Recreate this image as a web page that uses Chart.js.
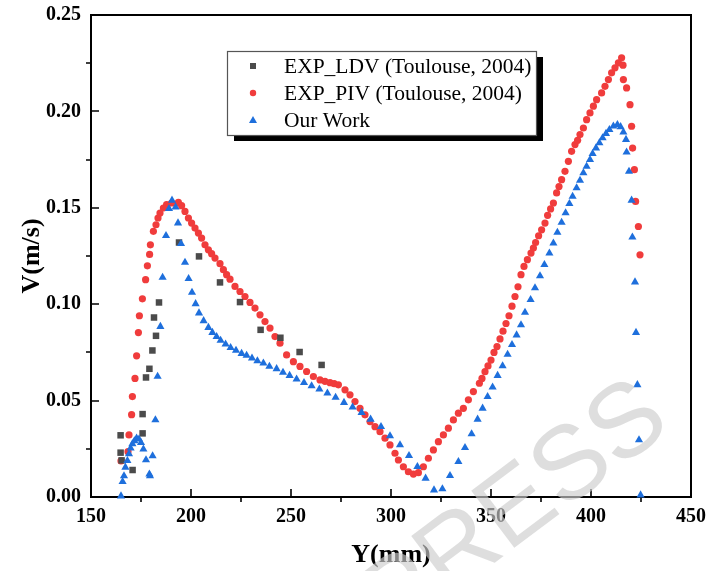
<!DOCTYPE html>
<html>
<head>
<meta charset="utf-8">
<script src="https://cdn.jsdelivr.net/npm/chart.js@4.4.1/dist/chart.umd.min.js"></script>
<style>
  html, body { margin: 0; padding: 0; background: #fff; }
  #wrap { width: 706px; height: 571px; }
</style>
</head>
<body>
<div id="wrap"><canvas id="chart" width="706" height="571"></canvas></div>
<script>
// series: Y (mm) and V (m/s)
const ldvX = [164.8, 164.8, 165.3, 170.8, 175.8, 175.8, 177.5, 179.2, 180.7, 182.5, 181.5, 184.0,
  194.0, 204.0, 214.5, 224.5, 234.8, 244.7, 254.3, 265.3];
const ldvY = [0.032, 0.023, 0.019, 0.014, 0.033, 0.043, 0.062, 0.0665, 0.076, 0.0836, 0.0931, 0.1009,
  0.132, 0.1248, 0.1113, 0.1011, 0.0867, 0.0826, 0.0752, 0.0685];

const pivX = [165.0, 168.5, 169.0, 170.3, 170.7, 172.0, 172.8, 173.7, 174.2, 175.7, 177.3, 178.2, 179.3, 179.7,
  181.2, 182.5, 183.5, 184.5, 186.2, 187.8, 190.3, 193.7, 195.3, 197.0, 198.7, 200.3, 202.0, 203.7, 205.3,
  207.0, 208.7, 210.3, 212.0, 214.5, 216.2, 217.8, 219.5, 222.0, 224.5, 227.0, 229.5, 232.0, 234.5, 237.0,
  239.5, 242.0, 244.5, 247.8, 251.2, 254.5, 257.8, 261.2, 264.5, 267.0, 269.5, 271.6, 273.7, 277.0, 279.5,
  282.0, 284.5, 287.0, 289.5, 292.0, 294.5, 297.0, 299.5, 302.0, 303.7, 306.2, 308.7, 311.2, 313.7, 316.2,
  318.7, 321.2, 323.7, 326.2, 328.7, 331.2, 333.7, 336.2, 338.7, 341.2, 344.2, 345.5, 347.0, 348.5, 350.0,
  351.5, 353.0, 354.5, 356.0, 357.5, 359.0, 360.5, 362.0, 363.5, 365.0, 366.5, 368.2, 370.0, 371.2, 372.3,
  373.8, 375.3, 377.0, 378.3, 379.8, 381.2, 382.8, 384.0, 385.3, 387.0, 388.7, 390.3, 392.0, 393.3, 394.5,
  396.2, 397.8, 399.5, 401.2, 402.8, 405.3, 407.0, 408.7, 410.3, 412.0, 413.7, 415.3, 416.0, 416.2, 417.8,
  419.5, 420.3, 420.8, 421.7, 422.3, 423.7, 424.5];
const pivY = [0.0187, 0.0235, 0.0322, 0.0427, 0.0521, 0.0615, 0.0732, 0.0853, 0.094, 0.1028, 0.1127, 0.1199, 0.1258, 0.1308,
  0.1378, 0.1412, 0.1447, 0.1473, 0.1499, 0.1516, 0.1525, 0.1528, 0.1511, 0.1481, 0.1447, 0.1421, 0.1395, 0.1369, 0.1343,
  0.1308, 0.1282, 0.1262, 0.1239, 0.1210, 0.1179, 0.1153, 0.1130, 0.1092, 0.1066, 0.1040, 0.1009, 0.0980, 0.0945, 0.0910,
  0.0876, 0.0832, 0.0798, 0.0737, 0.0702, 0.0677, 0.0651, 0.0625, 0.0607, 0.0600, 0.0593, 0.0588, 0.0582, 0.0556, 0.0530,
  0.0495, 0.0460, 0.0426, 0.0391, 0.0365, 0.0339, 0.0305, 0.0270, 0.0227, 0.0192, 0.0157, 0.0131, 0.0119, 0.0126, 0.0157,
  0.0201, 0.0244, 0.0287, 0.0322, 0.0357, 0.0400, 0.0435, 0.0460, 0.0504, 0.0547, 0.0590, 0.0615, 0.065, 0.068, 0.071,
  0.075, 0.078, 0.082, 0.086, 0.090, 0.094, 0.099, 0.104, 0.109, 0.1153, 0.1196, 0.1231, 0.1265, 0.1291, 0.1320,
  0.1355, 0.1386, 0.1421, 0.1461, 0.1494, 0.1525, 0.1577, 0.161, 0.1646, 0.1689, 0.1741, 0.1793, 0.1828, 0.185, 0.1880,
  0.1914, 0.1957, 0.1992, 0.2027, 0.2061, 0.2096, 0.2130, 0.2165, 0.2200, 0.2226, 0.2252, 0.2278, 0.2240, 0.2165, 0.2122,
  0.2035, 0.1923, 0.1810, 0.1698, 0.1533, 0.1403, 0.1256];

const oursX = [165.0, 165.8, 166.5, 167.2, 168.2, 169.0, 169.8, 170.7, 171.7, 172.8, 174.0, 175.0, 176.2, 177.5,
  179.2, 179.5, 180.8, 182.2, 183.3, 184.7, 185.8, 187.5, 189.0, 190.5, 192.3, 193.5, 195.0, 197.0, 198.8, 200.5,
  202.3, 204.0, 206.3, 208.7, 210.7, 212.8, 214.8, 217.3, 219.8, 222.5, 225.3, 227.8, 230.5, 233.2, 236.2, 239.2,
  242.8, 246.0, 249.3, 252.8, 256.5, 260.3, 264.2, 268.2, 272.3, 276.5, 280.8, 285.3, 289.8, 295.0, 299.5, 304.5,
  309.0, 313.2, 317.3, 321.5, 325.7, 329.5, 333.7, 337.0, 340.3, 343.3, 345.8, 348.3, 350.8, 353.3, 355.8, 358.3,
  360.5, 362.8, 365.0, 367.0, 369.8, 372.0, 374.5, 376.7, 379.2, 381.2, 383.2, 385.3, 387.3, 389.2, 390.8, 392.8,
  394.5, 396.2, 397.8, 399.5, 400.8, 402.5, 404.2, 405.8, 407.5, 409.2, 411.2, 413.2, 414.8, 416.2, 417.5, 417.8,
  419.0, 420.3, 420.7, 422.0, 422.5, 423.2, 424.0, 424.8];
const oursY = [0.0005, 0.0080, 0.0109, 0.0154, 0.0188, 0.0223, 0.0253, 0.0275, 0.0291, 0.0305, 0.0300, 0.0282, 0.0248, 0.0192,
  0.0118, 0.0109, 0.0213, 0.0400, 0.0625, 0.0884, 0.1139, 0.1355, 0.1495, 0.1539, 0.1504, 0.1421, 0.1314, 0.1217, 0.1132, 0.1061,
  0.1002, 0.0954, 0.0914, 0.0879, 0.0853, 0.0832, 0.0812, 0.0793, 0.0775, 0.0760, 0.0744, 0.0734, 0.0720, 0.0706, 0.0694, 0.0677,
  0.0665, 0.0646, 0.0630, 0.0611, 0.0593, 0.0576, 0.0559, 0.0538, 0.0516, 0.0490, 0.0466, 0.0438, 0.0403, 0.0365, 0.0317, 0.0270,
  0.0214, 0.0157, 0.0097, 0.0036, 0.0042, 0.0111, 0.0183, 0.0256, 0.0327, 0.0403, 0.046, 0.052, 0.057, 0.063, 0.068, 0.074,
  0.079, 0.084, 0.0893, 0.0957, 0.1023, 0.1084, 0.1147, 0.1205, 0.1265, 0.1317, 0.1372, 0.1424, 0.1473, 0.1521, 0.1559, 0.1603,
  0.1642, 0.1681, 0.1715, 0.1750, 0.1781, 0.1810, 0.1836, 0.1862, 0.1885, 0.1905, 0.1923, 0.1931, 0.1920, 0.1892, 0.1854, 0.1788,
  0.1689, 0.1539, 0.1348, 0.1115, 0.0853, 0.0582, 0.0296, 0.0010];

const seriesNames = ["EXP_LDV (Toulouse, 2004)", "EXP_PIV (Toulouse, 2004)", "Our Work"];
const xTicks = [150, 200, 250, 300, 350, 400, 450];
const xMinor = [175, 225, 275, 325, 375, 425];
const yTicks = [0, 0.05, 0.10, 0.15, 0.20, 0.25];
const yMinor = [0.025, 0.075, 0.125, 0.175, 0.225];

const RED = "#f03c3c";
const BLUE = "#1e6fdc";
const GREY = "#4b4b4b";

function pts(xs, ys) {
  return xs.map((x, i) => ({ x: x, y: ys[i] }));
}

// box round the plot, major ticks inside, minor ticks outside
const frame = {
  id: "frame",
  beforeDatasetsDraw(chart) {
    const { ctx, chartArea: a, scales } = chart;
    ctx.save();
    ctx.strokeStyle = "#000";
    ctx.lineWidth = 2;
    ctx.strokeRect(a.left, a.top, a.right - a.left, a.bottom - a.top);
    ctx.lineWidth = 1.6;
    ctx.beginPath();
    xTicks.forEach(v => {
      const p = Math.round(scales.x.getPixelForValue(v));
      ctx.moveTo(p, a.bottom); ctx.lineTo(p, a.bottom - 8);
    });
    xMinor.forEach(v => {
      const p = Math.round(scales.x.getPixelForValue(v));
      ctx.moveTo(p, a.bottom); ctx.lineTo(p, a.bottom + 5);
    });
    yTicks.forEach(v => {
      const p = Math.round(scales.y.getPixelForValue(v));
      ctx.moveTo(a.left, p); ctx.lineTo(a.left + 8, p);
    });
    yMinor.forEach(v => {
      const p = Math.round(scales.y.getPixelForValue(v));
      ctx.moveTo(a.left, p); ctx.lineTo(a.left - 5, p);
    });
    ctx.stroke();
    ctx.restore();
  }
};

// framed legend with a solid drop shadow
const boxLegend = {
  id: "boxLegend",
  afterDatasetsDraw(chart) {
    const ctx = chart.ctx;
    const bx = 227, by = 51, bw = 309, bh = 84;
    ctx.save();
    ctx.fillStyle = "#000";
    ctx.fillRect(bx + 7, by + 6, bw, bh);
    ctx.fillStyle = "#fff";
    ctx.fillRect(bx, by, bw, bh);
    ctx.strokeStyle = "#555";
    ctx.lineWidth = 1.2;
    ctx.strokeRect(bx + 0.5, by + 0.5, bw, bh);
    const mx = 253;
    const rows = [66, 93, 120];
    ctx.fillStyle = GREY;
    ctx.fillRect(mx - 3, rows[0] - 3, 6, 6);
    ctx.fillStyle = RED;
    ctx.beginPath(); ctx.arc(mx, rows[1], 3.2, 0, Math.PI * 2); ctx.fill();
    ctx.fillStyle = BLUE;
    ctx.beginPath();
    ctx.moveTo(mx, rows[2] - 4); ctx.lineTo(mx + 4, rows[2] + 3); ctx.lineTo(mx - 4, rows[2] + 3);
    ctx.closePath(); ctx.fill();
    ctx.fillStyle = "#000";
    ctx.font = '21.5px "Liberation Serif"';
    ctx.textBaseline = "middle";
    ctx.textAlign = "left";
    seriesNames.forEach((t, i) => ctx.fillText(t, 284, rows[i] + 1));
    ctx.restore();
  }
};

// faint "PRESS" stamp lying over the figure
const stamp = {
  id: "stamp",
  afterDraw(chart) {
    const ctx = chart.ctx;
    ctx.save();
    ctx.translate(392, 640);
    ctx.rotate(-37 * Math.PI / 180);
    ctx.font = '104px "Liberation Sans"';
    ctx.fillStyle = "rgba(205,205,205,0.65)";
    ctx.fillText("PRESS", 0, 0);
    ctx.restore();
  }
};

new Chart(document.getElementById("chart"), {
  type: "scatter",
  data: {
    datasets: [
      { label: seriesNames[0], data: pts(ldvX, ldvY), pointStyle: "rect", pointRadius: 4.6,
        backgroundColor: GREY, borderWidth: 0, order: 1, clip: false },
      { label: seriesNames[1], data: pts(pivX, pivY), pointStyle: "circle", pointRadius: 3.6,
        backgroundColor: RED, borderWidth: 0, order: 2, clip: false },
      { label: seriesNames[2], data: pts(oursX, oursY), pointStyle: "triangle", pointRadius: 4.7,
        backgroundColor: BLUE, borderWidth: 0, order: 0, clip: false }
    ]
  },
  options: {
    responsive: false,
    animation: false,
    devicePixelRatio: 1,
    layout: { padding: { top: 15, right: 15, left: 0, bottom: 0 } },
    plugins: { legend: { display: false }, tooltip: { enabled: false } },
    scales: {
      x: {
        type: "linear", min: 150, max: 450,
        afterBuildTicks: s => { s.ticks = xTicks.map(v => ({ value: v })); },
        afterFit: s => { s.height = 74; s.paddingLeft = 0; s.paddingRight = 0; },
        grid: { display: false, drawTicks: false },
        border: { display: false },
        ticks: { padding: 8, color: "#000", maxRotation: 0,
          font: { family: "Liberation Serif", size: 20, weight: "bold" } },
        title: { display: true, text: "Y(mm)", color: "#000", padding: { top: 0, bottom: 0 },
          font: { family: "Liberation Serif", size: 26, weight: "bold" } }
      },
      y: {
        type: "linear", min: 0, max: 0.25,
        afterBuildTicks: s => { s.ticks = yTicks.map(v => ({ value: v })); },
        afterFit: s => { s.width = 91; s.paddingTop = 0; s.paddingBottom = 0; },
        grid: { display: false, drawTicks: false },
        border: { display: false },
        ticks: { padding: 10, color: "#000", callback: v => v.toFixed(2),
          font: { family: "Liberation Serif", size: 20, weight: "bold" } },
        title: { display: true, text: "V(m/s)", color: "#000", padding: { top: 17, bottom: 0 },
          font: { family: "Liberation Serif", size: 26, weight: "bold" } }
      }
    }
  },
  plugins: [frame, boxLegend, stamp]
});
</script>
</body>
</html>
